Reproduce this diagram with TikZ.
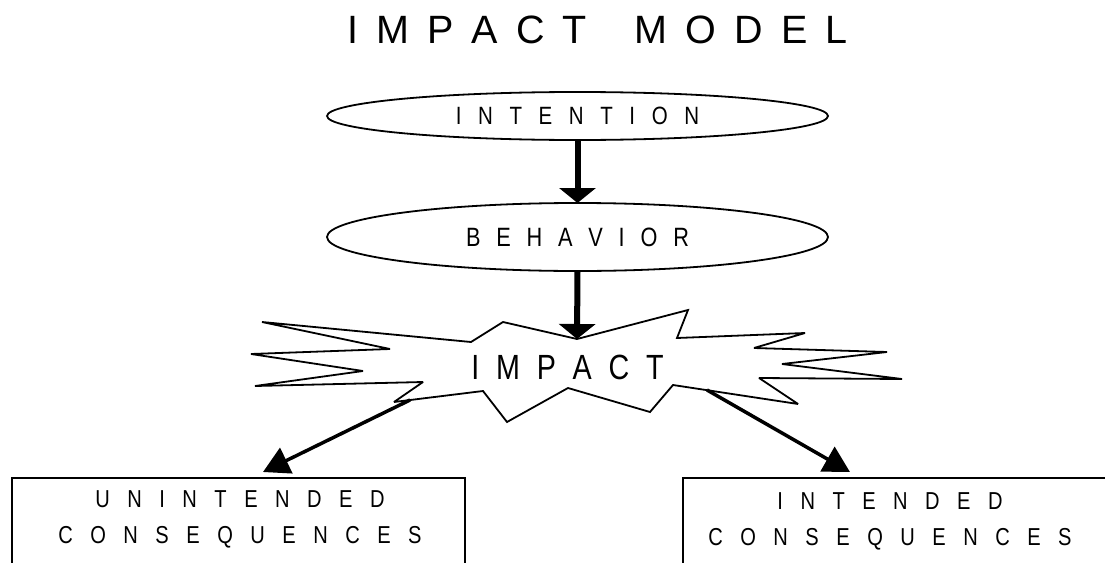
\documentclass[tikz,border=0pt]{standalone}
\usepackage{fontspec}
\setmainfont{Liberation Sans}
\newfontfamily\narrowfont[FakeStretch=0.82]{Liberation Sans}
\usetikzlibrary{shapes.geometric,arrows.meta}

% letters set apart by a fixed interword gap
\newcommand\spacedtext[2]{{\spaceskip=#1\relax #2}}

\begin{document}
\begin{tikzpicture}[x=1pt,y=-1pt,
  every node/.style={inner sep=0pt,outer sep=0pt},
  oval/.style={ellipse,draw,line width=1.8pt,minimum width=501pt,fill=white},
  caption/.style={align=center,font=\narrowfont\fontsize{24.5}{36}\selectfont},
  frame/.style={draw,line width=1.8pt,minimum height=110pt,anchor=north west},
  burst/.style={draw,line width=1.8pt,line join=miter,miter limit=3,fill=white},
  down/.style={-{Triangle[width=36pt,length=15pt]},line width=6pt},
  side/.style={-{Triangle[width=28pt,length=26pt]},line width=3.5pt},
]
\useasboundingbox (0,0) rectangle (1105,562);

% title
\node[anchor=base,font=\fontsize{39.5}{39.5}\selectfont] (title) at (597.5,43)
  {\spacedtext{18pt}{I M P A C T\hspace{30pt} M O D E L}};

% intention and behaviour
\node[oval,minimum height=48pt,font=\narrowfont\fontsize{25}{25}\selectfont]
  (intention) at (577.5,116)
  {\spacedtext{16.6pt}{I N T E N T I O N}};
\node[oval,minimum height=68pt,font=\narrowfont\fontsize{26.5}{26.5}\selectfont]
  (behavior) at (577.5,237)
  {\spacedtext{15.8pt}{B E H A V I O R}};

% impact burst
\draw[burst] (577,339) -- (688,310) -- (677,338) -- (805,333) -- (754,348)
  -- (887,352) -- (782,364) -- (902,379) -- (759,378) -- (798,404)
  -- (673,385) -- (650,412) -- (568,388) -- (507,422) -- (483,391)
  -- (394,402) -- (423,382) -- (255,386) -- (363,371) -- (251,354)
  -- (390,349) -- (262,322) -- (471,342) -- (503,322) -- cycle;
\node[font=\narrowfont\fontsize{35}{35}\selectfont] (impact) at (567.5,367.5)
  {\spacedtext{16.8pt}{I M P A C T}};
\coordinate (burstTop) at (577,339);
\coordinate (burstL) at (410,400);
\coordinate (burstR) at (707,390);

% consequence boxes
\node[frame,minimum width=453pt] (ubox) at (12,478) {};
\node[frame,minimum width=440pt] (ibox) at (683,478) {};
\node[caption] (utext) at (240,519.5)
  {\spacedtext{17.5pt}{U N I N T E N D E D}\\\spacedtext{17.5pt}{C O N S E Q U E N C E S}};
\node[caption] (itext) at (890,521)
  {\spacedtext{17.5pt}{I N T E N D E D}\\\spacedtext{17.5pt}{C O N S E Q U E N C E S}};
\coordinate (uTip) at (263,472);
\coordinate (iTip) at (850,472);

% connectors
\draw[down] (intention.south) -- (behavior.north);
\draw[down] (behavior.south) -- (burstTop);
\draw[side] (burstL) -- (uTip);
\draw[side] (burstR) -- (iTip);
\end{tikzpicture}
\end{document}
